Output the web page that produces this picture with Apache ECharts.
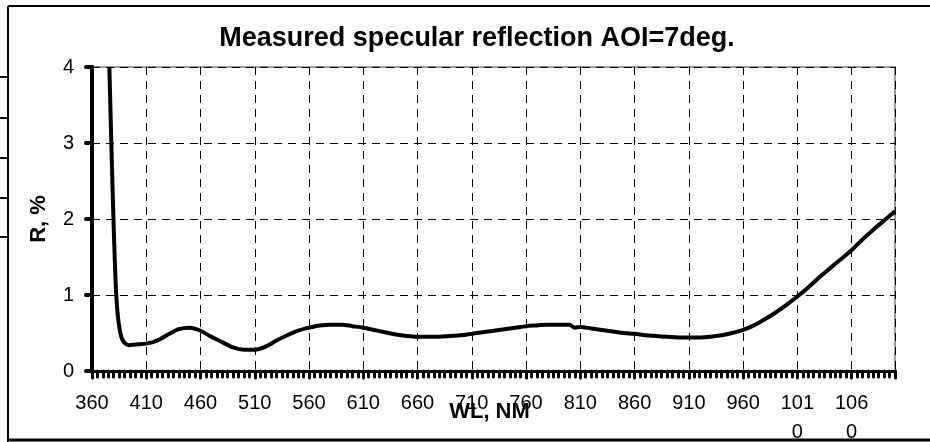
<!DOCTYPE html>
<html>
<head>
<meta charset="utf-8">
<script src="https://cdn.jsdelivr.net/npm/echarts@6/dist/echarts.min.js"></script>
<style>
html,body{margin:0;padding:0;background:#fff;}
#chart{width:930px;height:442px;}
</style>
</head>
<body>
<div id="chart"></div>
<script>
var titleText = 'Measured specular reflection AOI=7deg.';
var xName = 'WL, NM';
var yName = 'R, %';
var wavelengths = [376,378,380,382,384,387,390,394,400,410,420,430,440,450,460,470,480,490,500,510,520,530,540,550,560,570,580,590,600,610,620,630,640,650,660,670,680,690,700,710,720,730,740,750,760,770,780,790,800,805,810,820,830,840,850,860,870,880,890,900,910,920,930,940,950,960,970,980,990,1000,1010,1020,1030,1040,1050,1060,1070,1080,1090,1100];
var reflectance = [4.0,2.9,1.9,1.1,0.7,0.45,0.37,0.34,0.35,0.36,0.40,0.48,0.55,0.57,0.53,0.45,0.38,0.31,0.28,0.28,0.32,0.40,0.47,0.53,0.57,0.60,0.61,0.61,0.59,0.57,0.54,0.51,0.48,0.46,0.45,0.45,0.45,0.46,0.47,0.49,0.51,0.53,0.55,0.57,0.59,0.60,0.61,0.61,0.61,0.57,0.58,0.56,0.54,0.52,0.50,0.49,0.47,0.46,0.45,0.44,0.44,0.44,0.45,0.47,0.50,0.54,0.60,0.68,0.77,0.87,0.98,1.10,1.23,1.35,1.47,1.59,1.73,1.86,1.98,2.10];
var xMin = 360, xMax = 1100, xStep = 50;
var yMin = 0, yMax = 4, yStep = 1;

var data = wavelengths.map(function (w, i) { return [w, reflectance[i]]; });
var chart = echarts.init(document.getElementById('chart'), null, {renderer: 'canvas'});
var font = '"Liberation Sans", Arial, sans-serif';
chart.setOption({
  animation: false,
  backgroundColor: '#fff',
  title: {
    text: titleText,
    left: 472, top: 20, textAlign: 'center',
    textStyle: {fontFamily: font, fontSize: 27, fontWeight: 'bold', color: '#000'}
  },
  grid: {left: 92, right: 35, top: 67, bottom: 71, show: true, borderColor: '#999', borderWidth: 2, backgroundColor: 'transparent', outerBoundsMode: 'none', containLabel: false},
  xAxis: {
    type: 'value', min: xMin, max: xMax, interval: xStep,
    name: xName, nameLocation: 'middle', nameGap: 30, nameMoveOverlap: false,
    nameTextStyle: {fontFamily: font, fontSize: 22, fontWeight: 'bold', color: '#000', padding: [0, 0, 0, -8]},
    axisLine: {show: true, onZero: false, lineStyle: {color: '#000', width: 3}},
    axisTick: {show: true, length: 7, lineStyle: {color: '#000', width: 3, cap: 'round'}},
    minorTick: {show: true, splitNumber: 10, length: 6, lineStyle: {color: '#000', width: 3, cap: 'round'}},
    axisLabel: {
      margin: 18, fontFamily: font, fontSize: 20, color: '#000', lineHeight: 29,
      showMaxLabel: false, showMinLabel: true,
      formatter: function (v) { var s = String(v); return s.length > 3 ? s.slice(0, 3) + '\n' + s.slice(3) : s; },
      verticalAlign: 'top'
    },
    splitLine: {show: true, lineStyle: {color: '#000', width: 1, type: [8, 6]}}
  },
  yAxis: {
    type: 'value', min: yMin, max: yMax, interval: yStep,
    name: yName, nameLocation: 'middle', nameGap: 42,
    nameTextStyle: {fontFamily: font, fontSize: 22, fontWeight: 'bold', color: '#000'},
    axisLine: {show: true, lineStyle: {color: '#000', width: 4}},
    axisTick: {show: true, length: 6, lineStyle: {color: '#000', width: 4, cap: 'round'}},
    axisLabel: {margin: 18, fontFamily: font, fontSize: 20, color: '#000'},
    splitLine: {show: true, lineStyle: {color: '#000', width: 1, type: [8, 6]}}
  },
  series: [{
    type: 'line', data: data, showSymbol: false, smooth: 0.3,
    lineStyle: {color: '#000', width: 4}, clip: true, z: 5
  }],
  graphic: [
    {type: 'line', shape: {x1: 8, y1: 6, x2: 930, y2: 6}, style: {stroke: '#000', lineWidth: 2}},
    {type: 'line', shape: {x1: 8, y1: 6, x2: 8, y2: 442}, style: {stroke: '#000', lineWidth: 2}},
    {type: 'line', shape: {x1: 8, y1: 440, x2: 930, y2: 440}, style: {stroke: '#000', lineWidth: 3}},
    {type: 'line', shape: {x1: 0, y1: 77, x2: 8, y2: 77}, style: {stroke: '#000', lineWidth: 2}},
    {type: 'line', shape: {x1: 0, y1: 118, x2: 8, y2: 118}, style: {stroke: '#000', lineWidth: 2}},
    {type: 'line', shape: {x1: 0, y1: 158, x2: 8, y2: 158}, style: {stroke: '#000', lineWidth: 2}},
    {type: 'line', shape: {x1: 0, y1: 198, x2: 8, y2: 198}, style: {stroke: '#000', lineWidth: 2}},
    {type: 'line', shape: {x1: 0, y1: 237, x2: 8, y2: 237}, style: {stroke: '#000', lineWidth: 2}}
  ]
});
</script>
</body>
</html>
